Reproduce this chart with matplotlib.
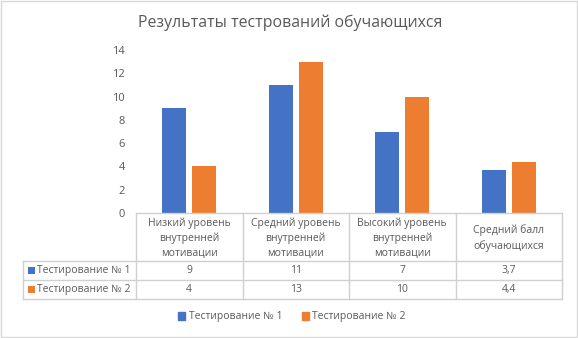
import matplotlib
matplotlib.use("Agg")
import matplotlib.pyplot as plt
from matplotlib.patches import Rectangle
from matplotlib.lines import Line2D

categories = ["Низкий уровень\nвнутренней\nмотивации",
              "Средний уровень\nвнутренней\nмотивации",
              "Высокий уровень\nвнутренней\nмотивации",
              "Средний балл\nобучающихся"]
series_names = ["Тестирование № 1", "Тестирование № 2"]
test1 = [9, 11, 7, 3.7]
test2 = [4, 13, 10, 4.4]
yticks = [0, 2, 4, 6, 8, 10, 12, 14]
title = "Результаты тестрований обучающихся"

colors = ["#4472C4", "#ED7D31"]
txt = "#595959"
grid = "#D9D9D9"
plt.rcParams['font.family'] = ['Open Sans', 'DejaVu Sans']

W, H = 578, 338
fig = plt.figure(figsize=(W / 100, H / 100), dpi=100)

def fx(px):
    return px / W

def fy(py):
    return 1 - py / H

x0, x1 = 136, 562
y_top, y_zero = 50, 213
ax = fig.add_axes([fx(x0), fy(y_zero), fx(x1) - fx(x0), fy(y_top) - fy(y_zero)])
n = len(categories)
xs = list(range(n))
bw = 0.225
off = 0.14
ax.bar([x - off for x in xs], test1, width=bw, color=colors[0], zorder=3)
ax.bar([x + off for x in xs], test2, width=bw, color=colors[1], zorder=3)
ax.set_xlim(-0.5, n - 0.5)
ax.set_ylim(0, 14)
ax.set_yticks(yticks)
ax.set_yticklabels([str(t) for t in yticks], color=txt, fontsize=8)
ax.tick_params(axis='y', length=0, pad=8)
ax.set_xticks([])
for s in ax.spines.values():
    s.set_visible(False)

# figure border
fig.add_artist(Rectangle((fx(1), fy(337)), fx(576), fy(1) - fy(337), transform=fig.transFigure,
                         fill=False, edgecolor=grid, lw=1))

fig.text(fx(290), fy(23), title, ha='center', va='center', fontsize=11.4, color=txt)

# data table
lc = "#D0D0D0"
rows_y = [213, 261, 280, 299]
lab_x0 = 23
col_w = (x1 - x0) / n
def hline(xa, xb, y):
    fig.add_artist(Line2D([fx(xa), fx(xb)], [fy(y), fy(y)], color=lc, lw=1, transform=fig.transFigure))
def vline(x, ya, yb):
    fig.add_artist(Line2D([fx(x), fx(x)], [fy(ya), fy(yb)], color=lc, lw=1, transform=fig.transFigure))

hline(x0, x1, rows_y[0])
for y in rows_y[1:]:
    hline(lab_x0, x1, y)
vline(lab_x0, rows_y[1], rows_y[3])
for i in range(n + 1):
    vline(x0 + i * col_w, rows_y[0], rows_y[3])

for i, c in enumerate(categories):
    cx = x0 + (i + 0.5) * col_w
    fig.text(fx(cx), fy((rows_y[0] + rows_y[1]) / 2 + 1), c, ha='center', va='center',
             fontsize=7.5, color=txt, linespacing=1.45)

def fmt(v):
    return str(v).replace('.', ',')

for r, (name, vals) in enumerate(zip(series_names, [test1, test2])):
    yc = (rows_y[1 + r] + rows_y[2 + r]) / 2
    fig.add_artist(Rectangle((fx(28), fy(yc + 3.5)), fx(7), fy(0) - fy(7), transform=fig.transFigure,
                             color=colors[r], lw=0))
    fig.text(fx(37), fy(yc), name, ha='left', va='center', fontsize=7.5, color=txt)
    for i, v in enumerate(vals):
        cx = x0 + (i + 0.5) * col_w
        fig.text(fx(cx), fy(yc), fmt(v), ha='center', va='center', fontsize=7.5, color=txt)

# legend
handles = [Rectangle((0, 0), 1, 1, color=c) for c in colors]
fig.legend(handles, series_names, loc='center', bbox_to_anchor=(fx(292), fy(317)), ncol=2,
           frameon=False, fontsize=7.5, labelcolor=txt, handlelength=0.7, handleheight=0.7,
           handletextpad=0.3, columnspacing=1.9)

fig.savefig("out.png", dpi=100)
